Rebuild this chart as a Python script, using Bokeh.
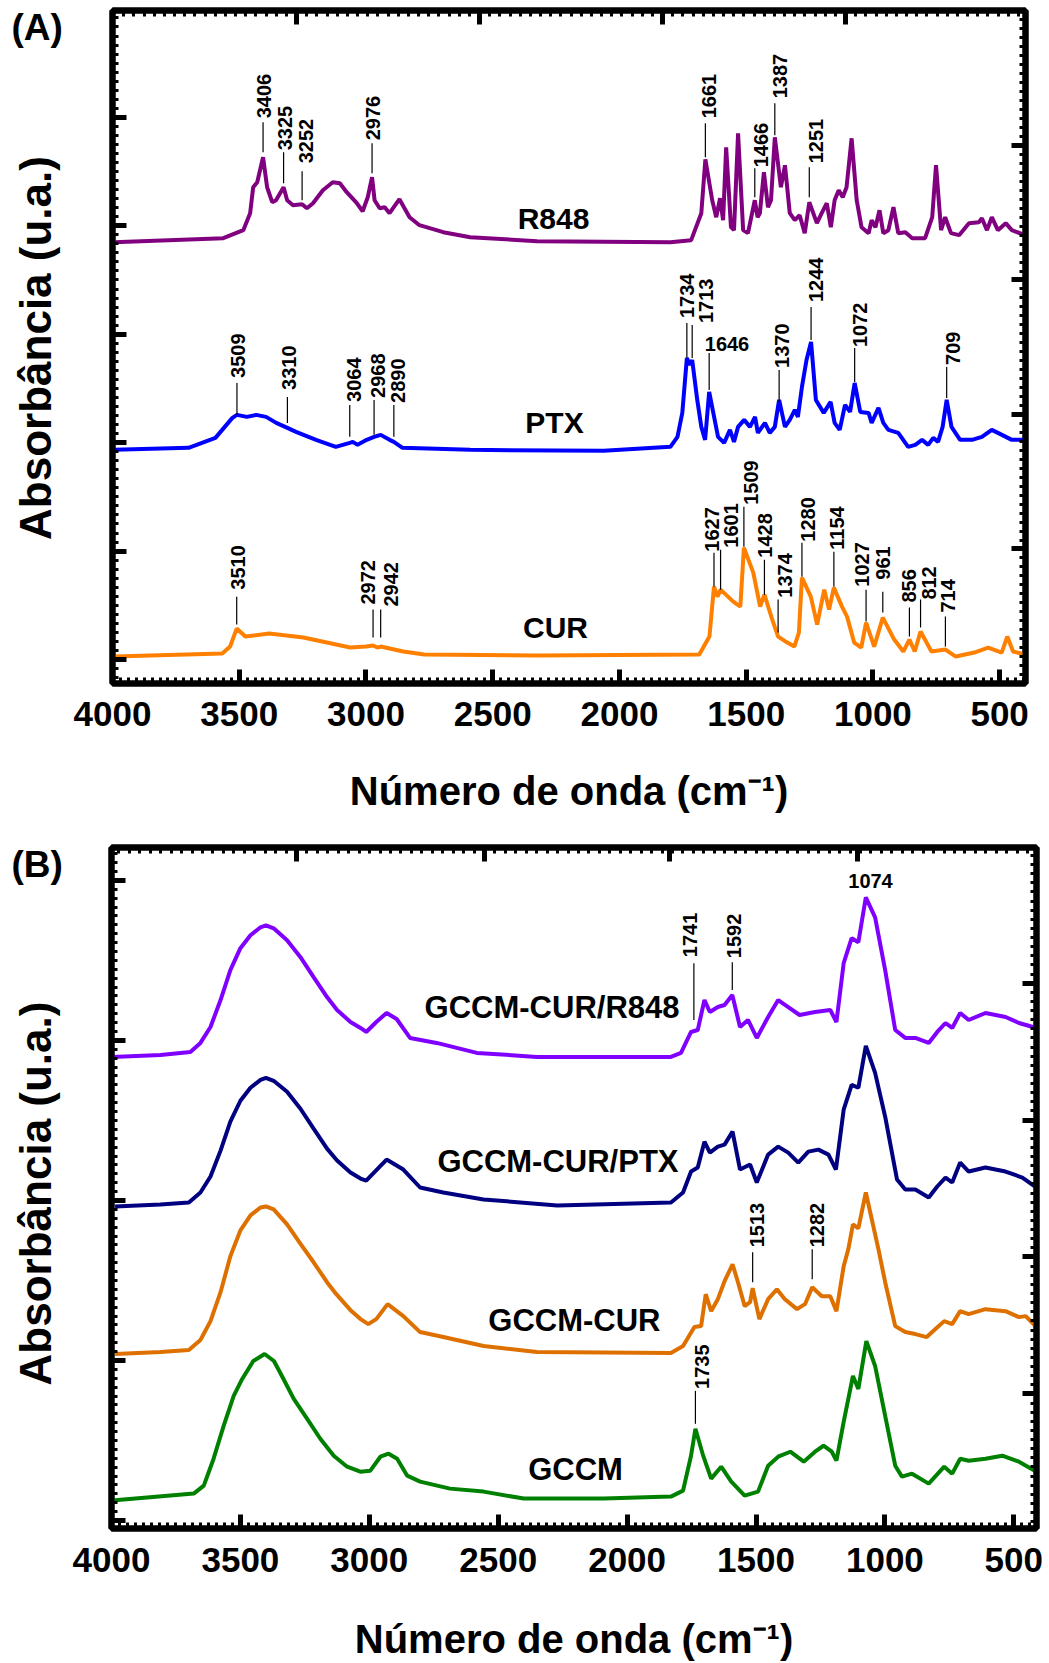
import math
from bokeh.plotting import figure
from bokeh.models import Range1d, LinearAxis, FixedTicker, Label, Grid
from bokeh.layouts import column, row
from bokeh.embed import file_html
from bokeh.resources import INLINE
from bokeh.core.properties import value

FONT = "Liberation Sans"

# ---------------------------------------------------------------- data (A)
r848_wn = [3995, 3563, 3484, 3457, 3445, 3429, 3406, 3390, 3370, 3355, 3325, 3311, 3288, 3252, 3233,
           3209, 3170, 3131, 3103, 3076, 3036, 3013, 2993, 2976, 2966, 2946, 2926, 2907, 2868, 2828,
           2789, 2695, 2589, 2325, 1799, 1717, 1677, 1661, 1634, 1618, 1603, 1591, 1579, 1560, 1548,
           1532, 1512, 1493, 1466, 1455, 1446, 1430, 1414, 1402, 1387, 1363, 1347, 1328, 1308, 1289,
           1269, 1251, 1221, 1202, 1182, 1166, 1151, 1135, 1119, 1104, 1084, 1064, 1045, 1017, 1005,
           990, 974, 959, 939, 919, 900, 872, 845, 794, 766, 751, 731, 715, 692, 660, 621, 582, 570,
           550, 531, 507, 476, 452, 400]
r848_abs = [0, 4, 12, 29, 55, 60, 85, 55, 40, 42, 55, 42, 37, 38, 34,
            39, 52, 60, 59, 50, 39, 31, 45, 65, 42, 34, 35, 29, 43, 25,
            17, 10, 5, 1, 0, 2, 29, 83, 42, 25, 44, 22, 95, 15, 12,
            109, 12, 9, 42, 25, 29, 70, 35, 42, 105, 55, 77, 29, 22, 27,
            9, 40, 19, 29, 39, 15, 42, 52, 45, 55, 104, 42, 15, 9, 22,
            15, 32, 9, 12, 35, 9, 10, 4, 4, 25, 77, 12, 25, 9, 7, 19, 20, 24,
            12, 25, 12, 19, 12, 7]

ptx_wn = [3991, 3700, 3594, 3527, 3509, 3470, 3433, 3394, 3354, 3310, 3276, 3197, 3119, 3064, 3052,
          3033, 2997, 2968, 2942, 2907, 2890, 2856, 2589, 2062, 1799, 1771, 1752, 1734, 1722, 1713,
          1693, 1677, 1662, 1646, 1611, 1587, 1564, 1548, 1532, 1508, 1485, 1465, 1454, 1426, 1407,
          1387, 1370, 1347, 1328, 1308, 1296, 1280, 1262, 1244, 1225, 1194, 1167, 1151, 1131, 1110,
          1090, 1072, 1050, 1017, 1005, 978, 959, 939, 900, 861, 833, 806, 782, 762, 743, 725, 709,
          690, 656, 609, 570, 531, 491, 452, 400]
ptx_abs = [0, 2, 12, 32, 35, 33, 35, 33, 27, 22, 18, 10, 3, 7, 8,
           5, 10, 13, 15, 10, 8, 2, 0, -1, 3, 13, 37, 92, 85, 90,
           50, 23, 10, 58, 13, 7, 20, 8, 23, 30, 23, 33, 17, 27, 17,
           23, 50, 23, 30, 40, 33, 63, 90, 108, 50, 37, 48, 27, 20, 45,
           38, 67, 38, 37, 27, 42, 27, 20, 17, 3, 5, 10, 5, 12, 8, 23, 50,
           23, 10, 10, 13, 20, 15, 10, 10]

cur_wn = [3993, 3567, 3536, 3510, 3476, 3382, 3247, 3062, 3000, 2972, 2955, 2942, 2853, 2770, 2320,
          1685, 1645, 1627, 1613, 1601, 1551, 1523, 1509, 1472, 1445, 1428, 1397, 1374, 1338, 1310,
          1292, 1280, 1245, 1220, 1192, 1173, 1154, 1122, 1102, 1074, 1046, 1027, 995, 961, 916,
          880, 856, 835, 812, 769, 714, 673, 600, 545, 492, 470, 447, 400]
cur_abs = [0, 3, 10, 28, 20, 23, 19, 9, 10, 11, 9, 10, 5, 2, 1,
           2, 20, 70, 60, 67, 55, 50, 109, 84, 50, 62, 37, 20, 14, 10,
           24, 79, 60, 32, 67, 47, 69, 50, 40, 14, 9, 34, 10, 39, 17,
           5, 17, 5, 25, 5, 7, 0, 4, 9, 4, 20, 5, 2]

# ---------------------------------------------------------------- data (B)
b1_wn = [3998, 3810, 3694, 3655, 3616, 3577, 3539, 3500, 3461, 3422, 3401, 3371, 3319, 3267, 3216,
         3164, 3125, 3073, 3034, 3012, 2973, 2933, 2894, 2842, 2739,
         2583, 2350, 1830, 1791, 1752, 1726, 1700, 1679, 1648, 1622, 1592, 1562, 1531, 1497, 1453,
         1414, 1375, 1331, 1271, 1212, 1188, 1160, 1129, 1103, 1074, 1038, 999, 960, 921, 882, 830,
         797, 765, 739, 708, 675, 610, 532, 480, 412]
b1_abs = [0, 2, 5, 14, 30, 57, 87, 109, 122, 130, 132, 129, 117, 100, 80,
          60, 47, 35, 29, 25, 35, 44, 38, 19, 14,
          4, 0, 0, 4, 25, 27, 57, 45, 50, 52, 62, 30, 37, 19, 40,
          57, 50, 42, 45, 47, 35, 94, 119, 115, 160, 140, 87, 27, 19, 19, 14,
          25, 34, 29, 44, 37, 44, 40, 34, 29]

b2_wn = [3986, 3810, 3700, 3655, 3616, 3577, 3539, 3500, 3461, 3422, 3401, 3371, 3319, 3267, 3216,
         3164, 3125, 3073, 3034, 3012, 2933, 2868, 2803, 2713, 2557,
         2271, 1830, 1783, 1752, 1726, 1700, 1679, 1648, 1622, 1591, 1562, 1523, 1497, 1453, 1414,
         1375, 1336, 1297, 1258, 1219, 1190, 1160, 1129, 1103, 1074, 1038, 999, 953, 921, 882, 830,
         797, 765, 739, 708, 675, 610, 532, 467, 412]
b2_abs = [0, 2, 4, 14, 30, 56, 85, 106, 119, 127, 129, 126, 115, 98, 78,
          58, 46, 34, 28, 26, 47, 37, 19, 14, 7,
          1, 4, 14, 35, 39, 65, 54, 60, 62, 75, 37, 42, 24, 52, 60,
          54, 44, 55, 57, 52, 37, 97, 122, 119, 161, 134, 90, 27, 17, 17, 9,
          20, 29, 24, 44, 35, 39, 35, 29, 19]

b3_wn = [3986, 3810, 3700, 3655, 3616, 3577, 3539, 3500, 3461, 3422, 3401, 3371, 3319, 3271, 3216,
         3164, 3128, 3073, 3034, 3004, 2973, 2929, 2868,
         2803, 2713, 2557, 2350, 1830, 1783, 1739, 1713, 1695, 1674, 1648, 1622, 1591, 1570, 1544,
         1523, 1513, 1487, 1453, 1419, 1388, 1341, 1310, 1282, 1245, 1212, 1188, 1160, 1142, 1124,
         1103, 1074, 1025, 999, 960, 921, 882, 838, 804, 770, 739, 708, 675, 610, 532, 480, 454, 412]
b3_abs = [0, 2, 4, 14, 33, 62, 98, 124, 139, 147, 148, 145, 130, 112, 92,
          72, 60, 44, 35, 30, 35, 50, 38,
          22, 17, 8, 2, 1, 8, 27, 28, 60, 43, 55, 73, 90, 72, 48,
          52, 66, 35, 55, 65, 55, 45, 50, 67, 58, 58, 43, 88, 105, 130,
          126, 162, 105, 72, 28, 22, 20, 17, 25, 33, 30, 43, 40, 45, 43, 37, 38, 27]

b4_wn = [3998, 3681, 3642, 3604, 3565, 3526, 3493, 3450, 3406, 3370, 3345, 3293, 3241, 3190, 3138,
         3086, 3035, 2996, 2957, 2925, 2892, 2853, 2803,
         2687, 2557, 2401, 2090, 1830, 1783, 1752, 1735, 1705, 1674, 1635, 1596, 1544, 1492, 1453,
         1414, 1367, 1315, 1271, 1238, 1206, 1188, 1160, 1124, 1103, 1072, 1038, 999, 960, 934, 895,
         830, 770, 739, 708, 675, 610, 545, 480, 412]
b4_abs = [0, 7, 15, 42, 75, 105, 122, 140, 147, 140, 128, 102, 82, 62, 45,
          34, 29, 30, 44, 47, 42, 25, 19,
          12, 9, 2, 2, 4, 10, 45, 72, 45, 22, 34, 19, 5, 9, 35,
          44, 49, 39, 49, 55, 49, 40, 79, 125, 112, 160, 135, 85, 35, 24, 27,
          17, 34, 27, 42, 40, 42, 45, 39, 29]

x_ticks = [4000, 3500, 3000, 2500, 2000, 1500, 1000, 500]

# peak labels, panel A (text, leader top/bottom y, label x, label bottom y in page px)
a_peaks = ["3406", "3325", "3252", "2976", "1661", "1466", "1387", "1251",
           "3509", "3310", "3064", "2968", "2890", "1734", "1713", "1370", "1244", "1072", "709",
           "3510", "2972", "2942", "1627", "1601", "1509", "1428", "1374", "1280", "1154",
           "1027", "961", "856", "812", "714"]
a_line_top = [122, 152, 171, 143, 123, 168, 103, 167,
              383, 397, 405, 400, 405, 323, 325, 370, 307, 348, 367,
              597, 610, 610, 553, 550, 507, 560, 600, 543, 552,
              590, 592, 608, 600, 617]
a_line_bot = [152, 183, 200, 173, 157, 197, 135, 197,
              415, 423, 437, 435, 437, 358, 358, 402, 340, 382, 398,
              625, 638, 638, 587, 590, 547, 595, 633, 577, 587,
              622, 613, 637, 628, 647]
a_lab_x = [263.5, 284, 305, 372, 708, 760, 779, 815,
           237, 288, 353, 377, 397, 686, 705, 781, 815, 859, 952,
           237, 367.5, 390.5, 711, 730, 750, 764, 784, 807, 836,
           861, 882.5, 908, 928, 947.5]
a_lab_y = [118, 150, 163, 140, 118, 167, 98, 163,
           378, 390, 402, 398, 403, 318, 323, 368, 302, 347, 365,
           590, 605, 607, 552, 548, 505, 558, 598, 542, 550,
           587, 580, 603, 600, 613]

b_peaks = ["1741", "1592", "1513", "1282", "1735"]
b_line_top = [963, 962, 1253, 1250, 1392]
b_line_bot = [1020, 990, 1283, 1280, 1425]
b_lab_x = [689, 733, 756, 816, 701]
b_lab_y = [957, 958, 1248, 1248, 1390]

X_TITLE = "Número de onda (cm\u207b\u00b9)"
Y_TITLE = "Absorbância (u.a.)"


def minor_list(first, step, lo, hi):
    v = first
    while v - step >= lo - 1e-9:
        v -= step
    out = []
    while v <= hi + 1e-9:
        out.append(round(v, 3))
        v += step
    return out


def hide_grids(p):
    for g in p.center:
        if isinstance(g, Grid):
            g.visible = False


def frame_axis(ax, ticks, minors):
    ax.ticker = FixedTicker(ticks=ticks, minor_ticks=minors)
    ax.axis_line_color = "black"
    ax.axis_line_width = 6
    ax.major_tick_line_color = "black"
    ax.major_tick_line_width = 5
    ax.major_tick_in = 14
    ax.major_tick_out = 0
    ax.minor_tick_line_color = "black"
    ax.minor_tick_line_width = 3
    ax.minor_tick_in = 6
    ax.minor_tick_out = 0
    ax.major_label_text_font_size = "1px"
    ax.major_label_text_color = None
    ax.major_label_standoff = 0
    ax.axis_label_standoff = 0


SIDE_W = 64


def panel(fig_top, height, frame_left, br, bt, fw, fh, xend, top_t, top_n, left_t, left_n,
          right_t, right_n, std, title_std):
    bl = frame_left - SIDE_W
    bb = height - bt - fh
    width = 1049 - SIDE_W
    p = figure(width=width, height=height, x_range=Range1d(4000, xend), y_range=Range1d(0, fh),
               output_backend="svg", toolbar_location=None,
               x_axis_location=None, y_axis_location=None,
               min_border_left=bl, min_border_right=br, min_border_top=bt, min_border_bottom=bb)
    hide_grids(p)
    p.outline_line_color = "black"
    p.outline_line_width = 6
    p.background_fill_color = "white"
    p.border_fill_color = "white"
    p.extra_x_ranges = {"tx": Range1d(0, fw), "cx": Range1d(frame_left, frame_left + fw)}
    p.extra_y_ranges = {"ly": Range1d(0, fh), "ry": Range1d(0, fh),
                        "cy": Range1d(fig_top + bt + fh, fig_top + bt)}

    bx = LinearAxis()
    frame_axis(bx, x_ticks, [4000 - i * 31.25 for i in range(0, int((4000 - xend) / 31.25) + 1)])
    bx.major_label_text_font_size = "35px"
    bx.major_label_text_font = FONT
    bx.major_label_text_font_style = "bold"
    bx.major_label_text_color = "black"
    bx.major_label_standoff = std
    bx.major_label_overrides = {t: str(t) for t in x_ticks}
    bx.axis_label = X_TITLE
    bx.axis_label_text_font = FONT
    bx.axis_label_text_font_size = "40px"
    bx.axis_label_text_font_style = "bold"
    bx.axis_label_text_color = "black"
    bx.axis_label_standoff = title_std
    p.add_layout(bx, "below")

    tx = LinearAxis(x_range_name="tx")
    frame_axis(tx, top_t, minor_list(top_t[0], (top_t[1] - top_t[0]) / top_n, 0, fw))
    p.add_layout(tx, "above")

    ly = LinearAxis(y_range_name="ly")
    frame_axis(ly, left_t, minor_list(left_t[0], (left_t[1] - left_t[0]) / left_n, 0, fh))
    p.add_layout(ly, "left")

    ry = LinearAxis(y_range_name="ry")
    frame_axis(ry, right_t, minor_list(right_t[0], (right_t[1] - right_t[0]) / right_n, 0, fh))
    p.add_layout(ry, "right")
    return p


def side_panel(height, fig_top, bt, fh, tag, tag_y, title_y):
    # in a row, Bokeh aligns this frame with the neighbouring plot's frame
    h = figure(width=SIDE_W, height=height, x_range=Range1d(0, SIDE_W),
               y_range=Range1d(fig_top + bt + fh, fig_top + bt),
               output_backend="svg", toolbar_location=None,
               x_axis_location=None, y_axis_location=None, min_border=0,
               min_border_top=bt, min_border_bottom=height - bt - fh)
    hide_grids(h)
    h.outline_line_color = None
    h.background_fill_color = "white"
    h.border_fill_color = "white"
    h.text(x=[11], y=[tag_y], text=[tag], text_font=value(FONT), text_font_style="bold",
           text_font_size="37px", text_align="left", text_baseline="middle", text_color="black")
    h.text(x=[35], y=[title_y], text=[Y_TITLE], text_font=value(FONT), text_font_style="bold",
           text_font_size="44px", text_align="center", text_baseline="middle", text_color="black",
           angle=math.pi / 2)
    return h


def page_label(p, x, y, text, size, align="left", baseline="alphabetic", angle=0.0, style="bold"):
    p.add_layout(Label(x=x, y=y, x_range_name="cx", y_range_name="cy", text=text,
                       text_font=FONT, text_font_size=size, text_font_style=style,
                       text_color="black", text_align=align, text_baseline=baseline, angle=angle))


def peak_marks(p, peaks, tops, bots, lx, ly):
    wn = [float(t) for t in peaks]
    p.segment(x0=wn, x1=wn, y0=bots, y1=tops, y_range_name="cy", line_color="black", line_width=1.2)
    p.text(x=lx, y=ly, text=peaks, x_range_name="cx", y_range_name="cy", angle=math.pi / 2,
           text_font=value(FONT), text_font_style="bold", text_font_size="20px",
           text_align="left", text_baseline="middle", text_color="black")


# ---------------------------------------------------------------- panel A
pa = panel(0, 815, 112, 24, 10, 913, 674, 398,
           [184, 367, 550, 733], 18,
           [24, 132.6, 241.2, 349.8, 458.4, 567], 12,
           [0, 134.7, 269.4, 404.1, 538.8], 15, 18, 40)

off_a = {"R848": 442, "PTX": 234, "CUR": 27}
pa.line(r848_wn, [v + off_a["R848"] for v in r848_abs], line_color="#800080", line_width=4)
pa.line(ptx_wn, [v + off_a["PTX"] for v in ptx_abs], line_color="#0000FF", line_width=4)
pa.line(cur_wn, [v + off_a["CUR"] for v in cur_abs], line_color="#FF8000", line_width=4)

peak_marks(pa, a_peaks, a_line_top, a_line_bot, a_lab_x, a_lab_y)
pa.segment(x0=[1646], x1=[1646], y0=[390], y1=[353], y_range_name="cy", line_color="black", line_width=1.2)
page_label(pa, 726.5, 343.5, "1646", "20px", align="center", baseline="middle")

page_label(pa, 553, 218.5, "R848", "30px", align="center", baseline="middle")
page_label(pa, 554, 423, "PTX", "30px", align="center", baseline="middle")
page_label(pa, 555, 627.5, "CUR", "30px", align="center", baseline="middle")

sa = side_panel(815, 0, 10, 674, "(A)", 27, 348)

# ---------------------------------------------------------------- panel B
pb = panel(815, 848, 111, 13, 32, 925, 683, 412,
           [185, 373, 558, 746], 18,
           [8, 168.5, 329, 489.5, 650], 18,
           [135, 272.3, 409.6, 546.9], 15, 19, 42)

off_b = [473, 323, 175, 28]
pb.line(b1_wn, [v + off_b[0] for v in b1_abs], line_color="#8000FF", line_width=4)
pb.line(b2_wn, [v + off_b[1] for v in b2_abs], line_color="#000080", line_width=4)
pb.line(b3_wn, [v + off_b[2] for v in b3_abs], line_color="#DE7000", line_width=4)
pb.line(b4_wn, [v + off_b[3] for v in b4_abs], line_color="#008000", line_width=4)

peak_marks(pb, b_peaks, b_line_top, b_line_bot, b_lab_x, b_lab_y)
page_label(pb, 870, 881, "1074", "20px", align="center", baseline="middle")

page_label(pb, 679, 1007.5, "GCCM-CUR/R848", "31px", align="right", baseline="middle")
page_label(pb, 678, 1161.5, "GCCM-CUR/PTX", "31px", align="right", baseline="middle")
page_label(pb, 660, 1321, "GCCM-CUR", "31px", align="right", baseline="middle")
page_label(pb, 575, 1471, "GCCM", "31px", align="center", baseline="middle")

sb = side_panel(848, 815, 32, 683, "(B)", 864, 1194)

layout = column(row(sa, pa, spacing=0), row(sb, pb, spacing=0), spacing=0)
open("out.html", "w").write(file_html(layout, INLINE))
